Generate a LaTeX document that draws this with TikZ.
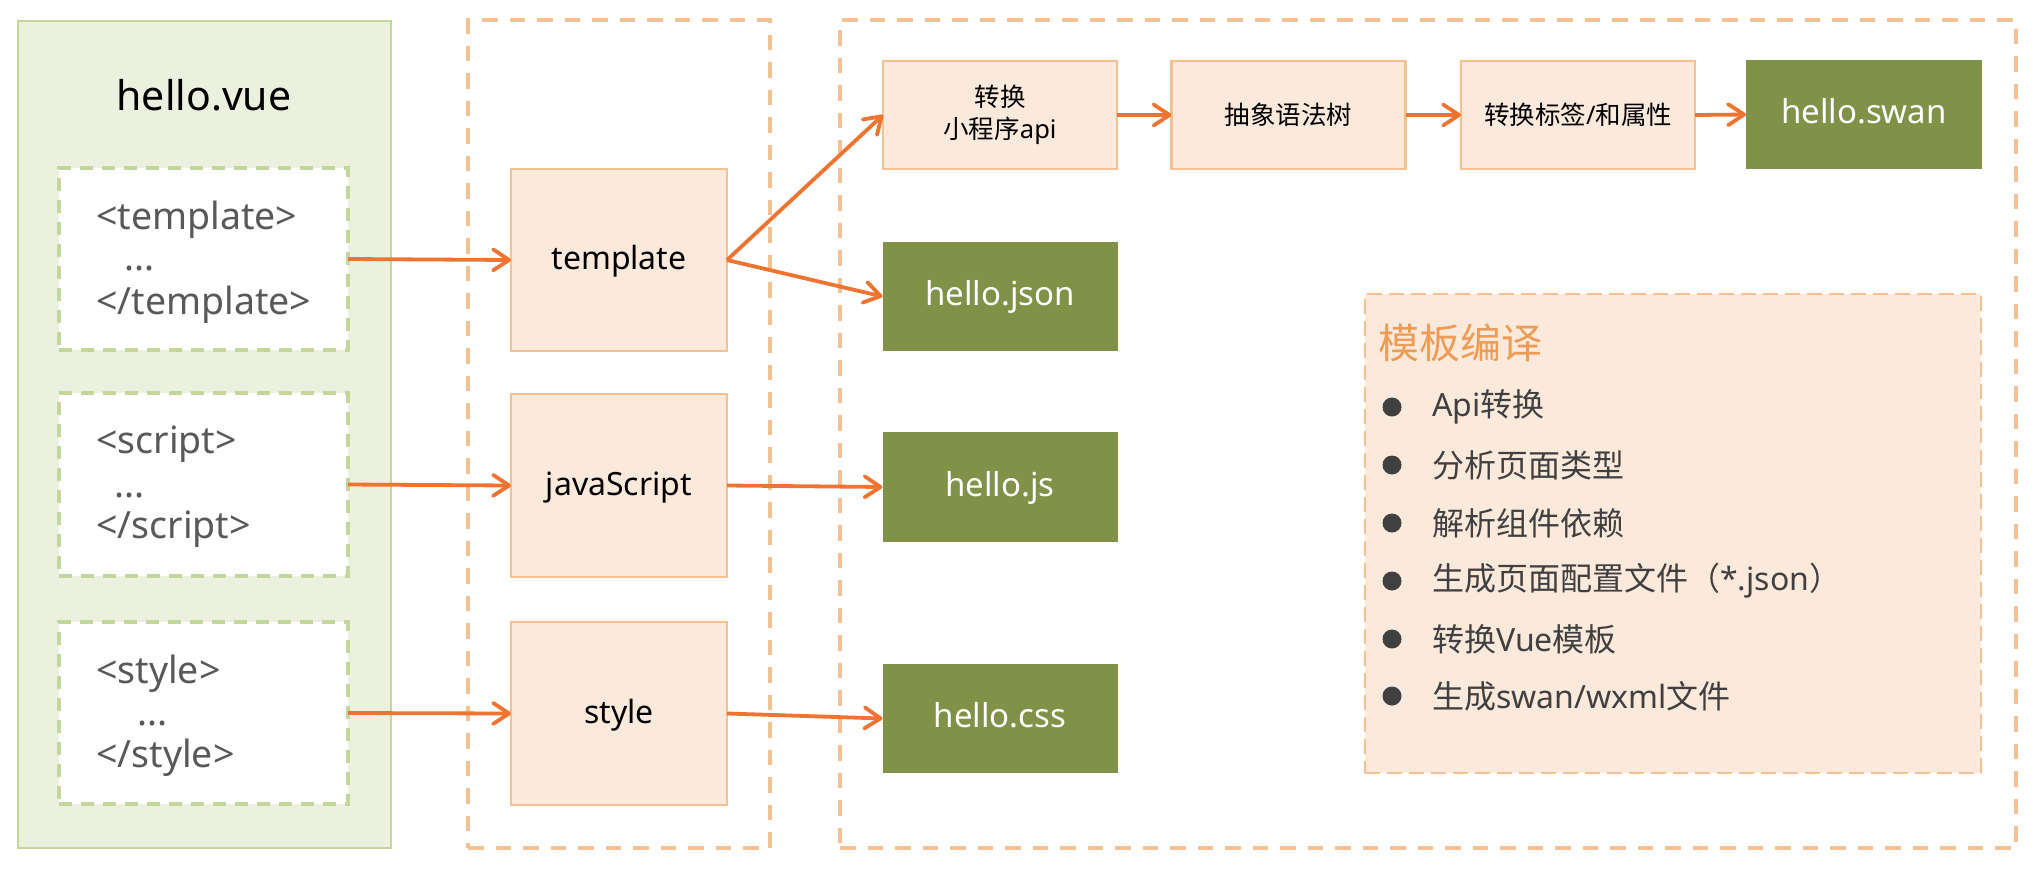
\documentclass[tikz,border=0pt]{standalone}
\usepackage{fontspec}
\setmainfont{Noto Sans}
\newfontfamily\cjk{Noto Sans CJK SC}
\usetikzlibrary{arrows.meta}
\definecolor{gfill}{HTML}{EBF1DE}
\definecolor{gline}{HTML}{C3D69B}
\definecolor{pfill}{HTML}{FBE9DB}
\definecolor{pline}{HTML}{F4C192}
\definecolor{olive}{HTML}{7F9247}
\definecolor{arrowc}{HTML}{EF7430}
\definecolor{titlec}{HTML}{EE9B55}
\definecolor{darktxt}{HTML}{404040}
\definecolor{graytxt}{HTML}{595959}
\begin{document}
\begin{tikzpicture}[x=1pt,y=-1pt,
  gouter/.style={draw=gline, fill=gfill, line width=2pt, inner sep=0pt, outer sep=0pt},
  gdash/.style={draw=gline, fill=white, line width=3.5pt, dash pattern=on 13pt off 9pt, inner sep=0pt, outer sep=0pt, minimum width=289pt},
  orangedash/.style={draw=pline, line width=3.5pt, dash pattern=on 15.5pt off 12pt, inner sep=0pt, outer sep=0pt},
  peachbox/.style={draw=pline, fill=pfill, line width=2.8pt, inner sep=0pt, outer sep=0pt},
  olivebox/.style={fill=olive, text=white, inner sep=0pt, outer sep=0pt, minimum width=235pt, minimum height=109pt,
    font=\fontsize{33}{38}\selectfont, text height=18pt, text depth=0pt},
  notebox/.style={draw=pline, fill=pfill, line width=2pt, dash pattern=on 15pt off 7pt, inner sep=0pt, outer sep=0pt},
  codetxt/.style={anchor=base west, inner sep=0pt, text=graytxt, font=\fontsize{37.5}{44}\selectfont},
  midbox/.style={peachbox, minimum width=216pt, minimum height=182pt, font=\fontsize{32}{38}\selectfont, text height=19pt, text depth=0pt},
  topbox/.style={peachbox, minimum width=234pt, minimum height=108pt, font=\fontsize{25.5}{32}\selectfont},
  dotn/.style={circle, fill=darktxt, minimum size=19pt, inner sep=0pt},
  itemtxt/.style={anchor=west, inner sep=0pt, text=darktxt, font=\fontsize{32}{38}\selectfont},
  arr/.style={draw=arrowc, line width=3.8pt, -{Straight Barb[length=16pt,width=21pt,round]}}
]
\useasboundingbox (0,0) rectangle (2036,868);
\fill[white] (0,0) rectangle (2036,868);

% left panel
\node[gouter, minimum width=373pt, minimum height=827pt] (vue) at (204.5,434.5) {};
\node[anchor=base, inner sep=0pt, font=\fontsize{41}{48}\selectfont] (vuetitle) at (204,110) {hello.vue};
\node[gdash, minimum height=182pt] (tin) at (203.5,259) {};
\node[gdash, minimum height=183pt] (sin) at (203.5,484.5) {};
\node[gdash, minimum height=182pt] (yin) at (203.5,713) {};
\node[codetxt] (ta) at (96,229) {<template>};
\node[codetxt] (tb) at (124,270) {...};
\node[codetxt] (tc) at (96,314) {</template>};
\node[codetxt] (sa) at (96,453) {<script>};
\node[codetxt] (sb) at (114,497) {...};
\node[codetxt] (sc) at (96,538) {</script>};
\node[codetxt] (ya) at (96,683) {<style>};
\node[codetxt] (yb) at (137,725) {...};
\node[codetxt] (yc) at (96,767) {</style>};

% middle panel
\node[orangedash, minimum width=302pt, minimum height=828pt] (mpanel) at (619,434) {};
\node[midbox] (mtpl) at (619,260) {template};
\node[midbox, minimum height=183pt] (mjs) at (619,485.5) {javaScript};
\node[midbox, minimum height=183pt] (msty) at (619,713.5) {style};

% right panel
\node[orangedash, minimum width=1176pt, minimum height=828pt] (rpanel) at (1428,434) {};
\node[topbox, align=center] (api) at (1000,115) {{\cjk 转换}\\{\cjk 小程序}api};
\node[topbox] (ast) at (1288.5,115) {\cjk 抽象语法树};
\node[topbox] (attr) at (1578,115) {{\cjk 转换标签}/{\cjk 和属性}};
\node[olivebox, minimum width=236pt] (swan) at (1864,114.5) {hello.swan};
\node[olivebox] (json) at (1000,296.5) {hello.json};
\node[olivebox, minimum height=110pt] (js) at (1000,487) {hello.js};
\node[olivebox] (css) at (1000,718.5) {hello.css};

% note box
\node[notebox, minimum width=616pt, minimum height=479pt] (note) at (1673,533.5) {};
\node[anchor=west, inner sep=0pt, text=titlec, font=\fontsize{41}{48}\selectfont] (notetitle) at (1378,343) {\cjk 模板编译};
\node[dotn] (d1) at (1392,407) {};
\node[dotn] (d2) at (1392,465) {};
\node[dotn] (d3) at (1392,523) {};
\node[dotn] (d4) at (1392,581) {};
\node[dotn] (d5) at (1392,639) {};
\node[dotn] (d6) at (1392,696) {};
\node[itemtxt] (i1) at (1432,407) {Api{\cjk 转换}};
\node[itemtxt] (i2) at (1432,465) {\cjk 分析页面类型};
\node[itemtxt] (i3) at (1432,523) {\cjk 解析组件依赖};
\node[itemtxt] (i4) at (1432,581) {{\cjk 生成页面配置文件（}*.json{\cjk ）}};
\node[itemtxt] (i5) at (1432,639) {{\cjk 转换}Vue{\cjk 模板}};
\node[itemtxt] (i6) at (1432,696) {{\cjk 生成}swan/wxml{\cjk 文件}};

% connectors
\draw[arr] (tin.east) -- (mtpl.west);
\draw[arr] (sin.east) -- (mjs.west);
\draw[arr] (yin.east) -- (msty.west);
\draw[arr] (mtpl.east) -- (api.west);
\draw[arr] (mtpl.east) -- (json.west);
\draw[arr] (mjs.east) -- (js.west);
\draw[arr] (msty.east) -- (css.west);
\draw[arr] (api.east) -- (ast.west);
\draw[arr] (ast.east) -- (attr.west);
\draw[arr] (attr.east) -- (swan.west);
\end{tikzpicture}
\end{document}
